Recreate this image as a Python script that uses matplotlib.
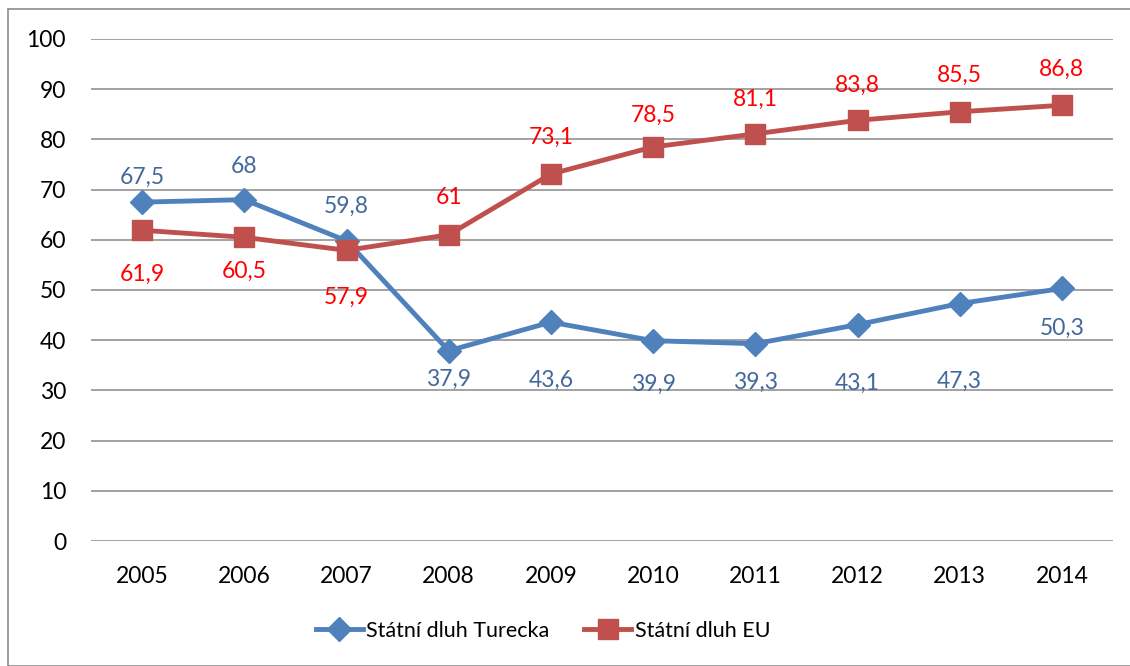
import numpy as np
import matplotlib.pyplot as plt
from matplotlib.patches import Rectangle

plt.rcParams['font.family'] = ['Lato', 'DejaVu Sans']

years = ['2005', '2006', '2007', '2008', '2009', '2010', '2011', '2012', '2013', '2014']
turecko = [67.5, 68, 59.8, 37.9, 43.6, 39.9, 39.3, 43.1, 47.3, 50.3]
eu = [61.9, 60.5, 57.9, 61, 73.1, 78.5, 81.1, 83.8, 85.5, 86.8]
yticks = [0, 10, 20, 30, 40, 50, 60, 70, 80, 90, 100]

# label offsets in pixels (up is positive)
off_tr = [25, 33, 34, -29, -58, -44, -39, -59, -78, -40]
off_eu = [-44, -34, -47, 37, 37, 32, 35, 35, 36, 36]

blue = '#4F81BD'
red = '#C0504D'
blue_txt = '#43699C'
red_txt = '#FF0000'
fs = 16.5

fig = plt.figure(figsize=(11.3, 6.66), dpi=100)
ax = fig.add_axes([91 / 1130, 1 - 541 / 666, 1022 / 1130, 502 / 666])

x = np.arange(len(years))
ax.plot(x, turecko, color=blue, lw=3.5, marker='D', ms=12, label='Státní dluh Turecka', zorder=3)
ax.plot(x, eu, color=red, lw=3.5, marker='s', ms=14, label='Státní dluh EU', zorder=3)

for i in range(len(years)):
    ax.annotate(str(turecko[i]).replace('.', ','), (x[i], turecko[i]),
                xytext=(0, off_tr[i] * 0.72), textcoords='offset points',
                ha='center', va='center', fontsize=fs, color=blue_txt)
    ax.annotate(str(eu[i]).replace('.', ','), (x[i], eu[i]),
                xytext=(0, off_eu[i] * 0.72), textcoords='offset points',
                ha='center', va='center', fontsize=fs, color=red_txt)

ax.set_xlim(-0.5, len(years) - 0.5)
ax.set_ylim(0, 100)
ax.set_yticks(yticks)
ax.set_xticks(x)
ax.set_xticklabels(years)
ax.grid(axis='y', color='#898989', lw=1.1)
ax.set_axisbelow(True)
for s in ax.spines.values():
    s.set_visible(False)
ax.tick_params(axis='both', length=0, labelsize=fs)
ax.tick_params(axis='y', pad=18)
ax.tick_params(axis='x', pad=18)

fig.legend(loc='center', bbox_to_anchor=(543 / 1130, 1 - 631 / 666), ncol=2,
           frameon=False, fontsize=15.5, handlelength=2.2, handletextpad=0.15,
           columnspacing=1.6)

fig.patches.append(Rectangle((8 / 1130, 0), 1.2, 1 - 9 / 666, transform=fig.transFigure,
                             fill=False, edgecolor='#8c8c8c', lw=1.2))

fig.savefig('out.png', dpi=100)
